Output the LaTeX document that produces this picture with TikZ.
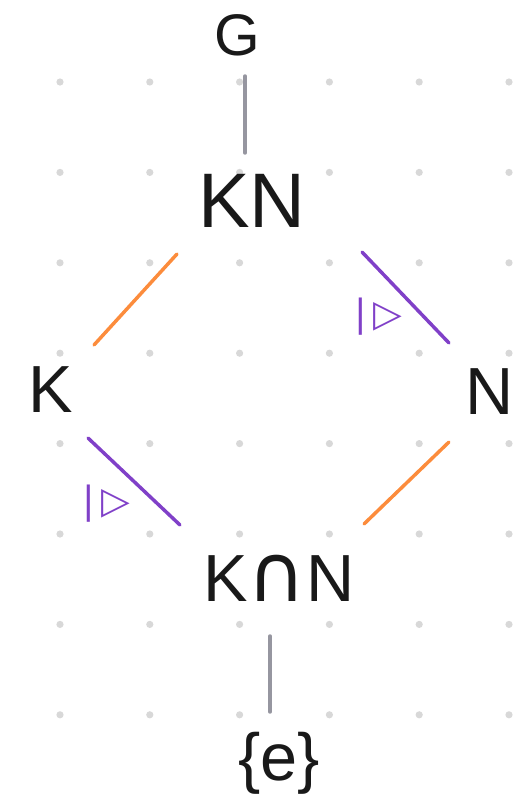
\documentclass[tikz,border=0pt]{standalone}
\usepackage{fontspec}
\setmainfont{Liberation Sans}
\newfontfamily\symfont{DejaVu Sans}
\usetikzlibrary{positioning}
\definecolor{lorange}{RGB}{252,140,60}
\definecolor{lpurple}{RGB}{128,64,200}
\definecolor{lgray}{RGB}{150,150,160}
\definecolor{dotgray}{RGB}{216,216,216}

\begin{document}
\begin{tikzpicture}[
  x=0.75pt, y=-0.75pt,
  grp/.style={inner sep=0pt, font=\fontsize{50}{50}\selectfont, text=black!90},
  sub/.style={line width=2.6pt, color=lorange, line cap=round},
  nsub/.style={line width=2.6pt, color=lpurple, line cap=round},
  lnk/.style={line width=2.6pt, color=lgray, line cap=round},
  nmark/.style={inner sep=0pt, text=lpurple, font=\symfont\fontsize{28}{28}\selectfont}
]
\useasboundingbox (0,0) rectangle (529,801);

%% dot grid
\foreach \i in {0,...,5}
  \foreach \j in {0,...,7}
    \fill[dotgray] (60+89.8*\i, 82+90.4*\j) circle (3.6);

%% subgroups
\node[grp, font=\fontsize{44}{44}\selectfont] (G) at (237,35) {G};
\node[grp, font=\fontsize{58}{58}\selectfont] (KN) at (252,201) {KN};
\node[grp] (K) at (51,390) {K};
\node[grp] (N) at (490,392) {N};
\node[grp] (KcapN) at (279,578) {K{\symfont\fontsize{60}{60}\selectfont ∩}N};
\node[grp] (e) at (279,763) {\{e\}};

%% line ends
\coordinate (G-s) at (245,76);
\coordinate (KN-n) at (245,153);
\coordinate (KN-sw) at (177,254);
\coordinate (K-ne) at (94,345);
\coordinate (KN-se) at (362,252);
\coordinate (N-nw) at (449,343);
\coordinate (K-se) at (88,438);
\coordinate (KcapN-nw) at (180,525);
\coordinate (N-sw) at (449,442);
\coordinate (KcapN-ne) at (364,524);
\coordinate (KcapN-s) at (270,636);
\coordinate (e-n) at (270,712);

\draw[lnk] (G-s) -- (KN-n);
\draw[sub] (KN-sw) -- (K-ne);
\draw[nsub] (KN-se) -- (N-nw);
\draw[nsub] (K-se) -- (KcapN-nw);
\draw[sub] (N-sw) -- (KcapN-ne);
\draw[lnk] (KcapN-s) -- (e-n);

%% normal marks
\node[nmark] (mN) at (378,317) {|\,▷};
\node[nmark] (mK) at (106,504) {|\,▷};

\end{tikzpicture}
\end{document}
